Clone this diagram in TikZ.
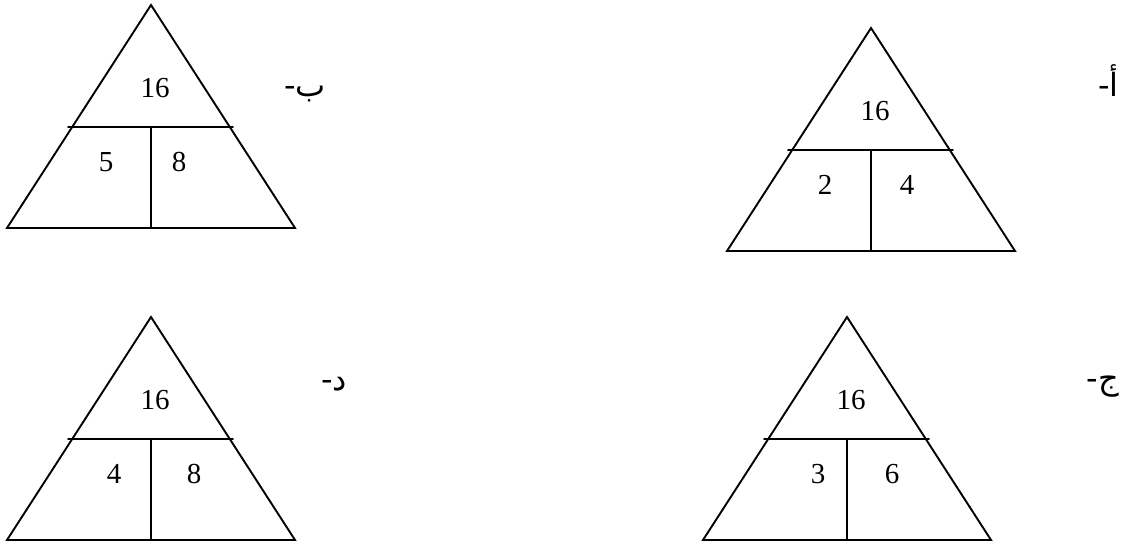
\documentclass[tikz,border=0pt]{standalone}
\usepackage{fontspec}
\setmainfont{Liberation Serif}
\newfontfamily\arabicfont[Script=Arabic]{DejaVu Sans}
\TeXXeTstate=1
\usetikzlibrary{calc}
\tikzset{
  triline/.style={line width=1.9pt, line cap=round, line join=miter},
  num/.style={inner sep=0pt, font=\fontsize{29}{32}\selectfont},
  lab/.style={inner sep=0pt, anchor=base east, font=\arabicfont\fontsize{32}{36}\selectfont}
}
% #1 name, #2 apex x, #3 apex y, #4 top number, #5 left number, #6 left dx, #7 right number, #8 right dx
\newcommand\mytri[8]{%
  \coordinate (#1-a) at (#2,#3);
  \coordinate (#1-l) at ($(#1-a)+(-144,223)$);
  \coordinate (#1-r) at ($(#1-a)+(144,223)$);
  \coordinate (#1-hl) at ($(#1-a)+(-83,122)$);
  \coordinate (#1-hr) at ($(#1-a)+(82,122)$);
  \coordinate (#1-vt) at ($(#1-a)+(0,122)$);
  \coordinate (#1-vb) at ($(#1-a)+(0,223)$);
  \draw[triline] (#1-a) -- (#1-r) -- (#1-l) -- cycle;
  \draw[triline] (#1-hl) -- (#1-hr);
  \draw[triline] (#1-vt) -- (#1-vb);
  \node[num] (#1-top) at ($(#1-a)+(4,83)$) {#4};
  \node[num] (#1-left) at ($(#1-a)+(#6,157)$) {#5};
  \node[num] (#1-right) at ($(#1-a)+(#8,157)$) {#7};
}
\begin{document}
\begin{tikzpicture}[x=1pt,y=-1pt]
\useasboundingbox (0,0) rectangle (1129,546);
\fill[white] (0,0) rectangle (1129,546);
\mytri{B}{151}{5}{16}{5}{-45}{8}{28}
\mytri{A}{871}{28}{16}{2}{-46}{4}{36}
\mytri{D}{151}{317}{16}{4}{-37}{8}{43}
\mytri{C}{847}{317}{16}{3}{-29}{6}{45}
\node[lab] (labA) at (1119,96) {\beginR أ-\endR};
\node[lab] (labB) at (326,96) {\beginR ب-\endR};
\node[lab] (labD) at (347,390) {\beginR د-\endR};
\node[lab] (labC) at (1119,389) {\beginR ج-\endR};
\end{tikzpicture}
\end{document}
